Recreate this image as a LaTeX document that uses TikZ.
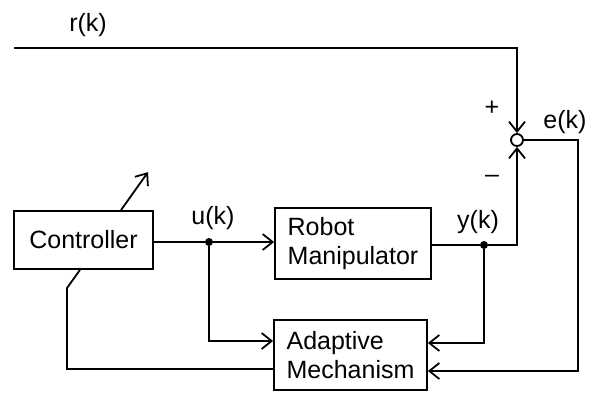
\documentclass[tikz,border=0pt]{standalone}
\usepackage{fontspec}
\setmainfont{Liberation Sans}
\usetikzlibrary{arrows.meta, positioning}
\tikzset{
  blk/.style={rectangle, draw=black, line width=1.8pt, fill=white, align=left,
              inner sep=0pt, font=\fontsize{25}{29}\selectfont},
  lbl/.style={inner sep=0pt, font=\fontsize{25}{29}\selectfont},
  sig/.style={-{Straight Barb[length=10pt, width=16pt, line width=1.8pt]}, line width=1.8pt},
  wire/.style={line width=1.8pt},
  dot/.style={circle, fill=black, inner sep=0pt, minimum size=8pt},
  sumpt/.style={circle, draw=black, line width=1.8pt, fill=white, inner sep=0pt, minimum size=12pt}
}

\begin{document}
\begin{tikzpicture}[x=1pt, y=-1pt]
  \useasboundingbox (0,0) rectangle (592,392);

  % blocks
  \node[blk, minimum width=139pt, minimum height=58pt] (ctrl) at (83.5,240) {Controller};
  \node[blk, minimum width=156pt, minimum height=71pt] (robot) at (353,243.5) {Robot\\Manipulator};
  \node[blk, minimum width=153pt, minimum height=70pt] (adapt) at (350.5,355) {Adaptive\\Mechanism};
  \node[sumpt] (sum) at (517,140) {};

  % branch points and corners
  \node[dot] (udot) at (209,242) {};
  \node[dot] (ydot) at (484,245) {};
  \coordinate (rin) at (14,48);
  \coordinate (eright) at (578,140);
  \coordinate (fbk) at (67,288);

  % labels
  \node[lbl] (rlbl) at (88,25) {r(k)};
  \node[lbl] (ulbl) at (213,218) {u(k)};
  \node[lbl] (ylbl) at (478,222) {y(k)};
  \node[lbl] (elbl) at (565,122) {e(k)};
  \node[lbl] (plus) at (492,108) {+};
  \node[lbl] (minus) at (492,179) {--};

  % signals
  \draw[sig] (rin) -- (sum.north |- rin) -- (sum.north);
  \draw[wire] (ctrl.east |- udot) -- (udot);
  \draw[sig] (udot) -- (robot.west |- udot);
  \draw[wire] (robot.east |- ydot) -- (ydot);
  \draw[sig] (ydot) -- (sum.south |- ydot) -- (sum.south);
  \draw[sig] (udot) |- ([yshift=14pt]adapt.west);
  \draw[sig] (ydot) |- ([yshift=12pt]adapt.east);
  \draw[sig] (sum.east) -- (eright) |- ([yshift=-16pt]adapt.east);
  \draw[wire] ([yshift=-14pt]adapt.west) -| (fbk) -- ([xshift=-3.5pt]ctrl.south);
  \draw[sig] ([xshift=37.5pt]ctrl.north) -- ++(27,-38);
\end{tikzpicture}
\end{document}
